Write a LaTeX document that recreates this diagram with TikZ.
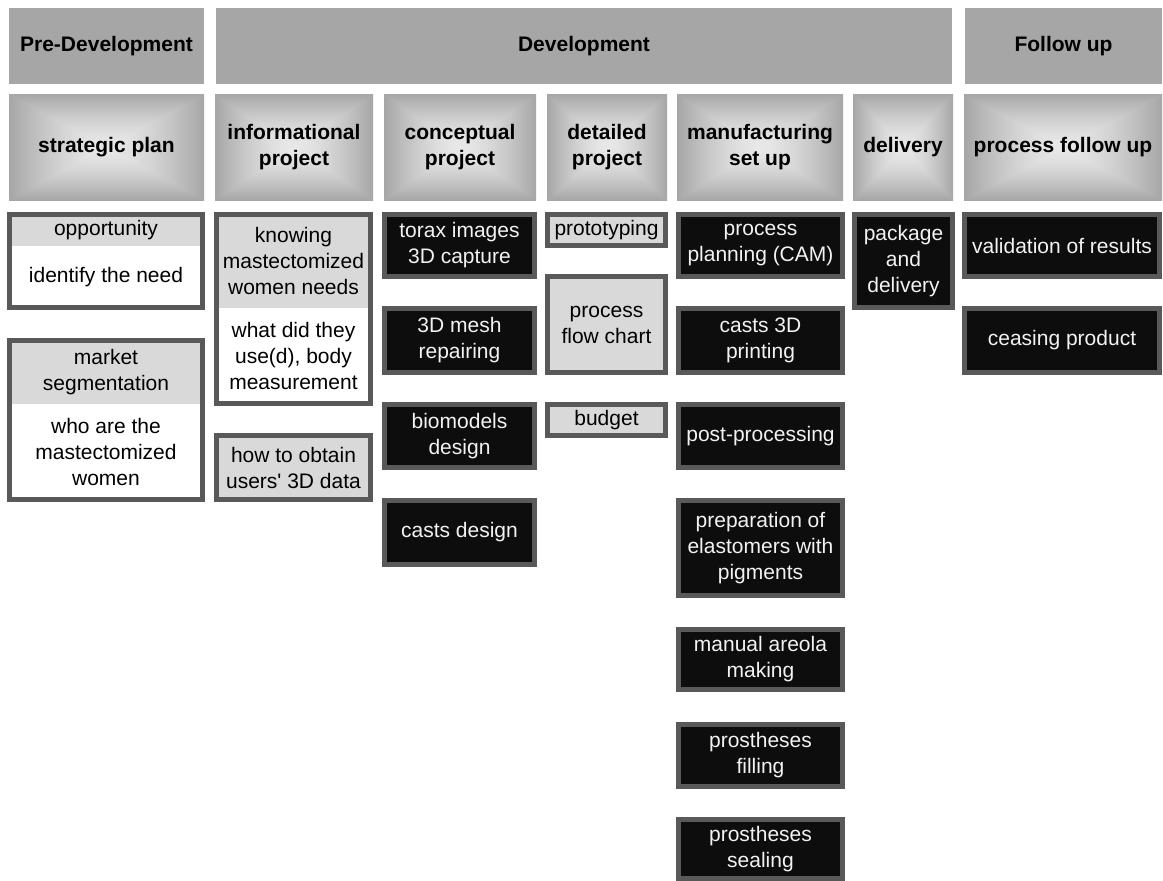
\documentclass[tikz,border=0pt]{standalone}
\usepackage{fontspec}
\setmainfont{Liberation Sans}
\usepackage{tikz}
\usetikzlibrary{positioning}
\definecolor{hdrgray}{RGB}{166,166,166}
\definecolor{framegray}{RGB}{89,89,89}
\definecolor{bandgray}{RGB}{217,217,217}
\definecolor{boxblack}{RGB}{13,13,13}
\definecolor{boxtext}{RGB}{242,242,242}
% light centre, darker towards the four edges
\pgfdeclarefunctionalshading{phaseshade}{\pgfpointorigin}{\pgfpoint{100bp}{100bp}}{}{
  50 sub abs exch 50 sub abs 2 copy lt {exch} if pop
  25 div dup sqrt mul -0.26 mul 0.91 add dup dup
}
\tikzset{
  txt/.style={font=\fontsize{21}{26}\selectfont, align=center,
    inner sep=0pt, outer sep=0pt},
  stagebox/.style={txt, rectangle, fill=hdrgray,
    font=\fontsize{21}{26}\selectfont\bfseries, minimum height=76pt},
  phasebox/.style={txt, rectangle, shading=phaseshade,
    font=\fontsize{21}{26}\selectfont\bfseries, minimum height=106pt},
  darkbox/.style={txt, rectangle, draw=framegray, fill=boxblack,
    text=boxtext, line width=5pt, minimum height=63pt},
  greybox/.style={txt, rectangle, draw=framegray, fill=bandgray,
    line width=5pt},
  headpart/.style={txt, rectangle, fill=bandgray},
  bodypart/.style={txt, rectangle, fill=white},
  frame/.style={draw=framegray, line width=5pt}
}

\begin{document}
\begin{tikzpicture}[x=1pt, y=-1pt]
  \path[use as bounding box, fill=white] (0,0) rectangle (1163,881);

  % Stages
  \node[stagebox, minimum width=195pt] (predev) at (106.5,46) {Pre-Development};
  \node[stagebox, minimum width=736pt] (dev) at (584,46) {Development};
  \node[stagebox, minimum width=197pt] (follow) at (1063.5,46) {Follow up};

  % Phases
  \foreach \n/\x/\w/\t in {plan/106.5/195/{strategic plan},
      info/294/158/{informational\\project},
      concept/460/152/{conceptual\\project},
      detail/607/120/{detailed\\project},
      manuf/760/166/{manufacturing\\set up},
      deliv/903/100/{delivery},
      followup/1063/198/{process follow up}}
    \node[phasebox, minimum width=\w pt] (\n) at (\x,147) {\t};

  % Strategic plan
  \node[headpart, minimum width=193pt, minimum height=31.5pt] (oppHead) at (106,230.25) {opportunity};
  \node[bodypart, minimum width=193pt, minimum height=61.5pt, below=0pt of oppHead] (oppBody) {identify the need};
  \draw[frame] (oppHead.north west) rectangle (oppBody.south east);
  \node[headpart, minimum width=193pt, minimum height=63.5pt] (segHead) at (106,372.25) {market\\segmentation};
  \node[bodypart, minimum width=193pt, minimum height=95.5pt, below=0pt of segHead] (segBody) {who are the\\mastectomized\\women};
  \draw[frame] (segHead.north west) rectangle (segBody.south east);

  % Informational project
  \node[headpart, minimum width=154pt, minimum height=93.5pt] (needHead) at (293.5,261.25) {knowing\\mastectomized\\women needs};
  \node[bodypart, minimum width=154pt, minimum height=95.5pt, below=0pt of needHead] (needBody) {what did they\\use(d), body\\measurement};
  \draw[frame] (needHead.north west) rectangle (needBody.south east);
  \node[greybox, minimum width=154pt, minimum height=64pt] (obtain) at (293.5,467.5) {how to obtain\\users\textquotesingle{} 3D data};

  % Conceptual project
  \node[darkbox, minimum width=150pt, minimum height=62pt] (torax) at (459.5,245.5) {torax images\\3D capture};
  \node[darkbox, minimum width=150pt, minimum height=64pt] (mesh) at (459.5,340.5) {3D mesh\\repairing};
  \node[darkbox, minimum width=150pt] (biomod) at (459.5,436) {biomodels\\design};
  \node[darkbox, minimum width=150pt, minimum height=64pt] (castsdes) at (459.5,532.5) {casts design};

  % Detailed project
  \node[greybox, minimum width=118pt, minimum height=31pt] (proto) at (606.5,230) {prototyping};
  \node[greybox, minimum width=118pt, minimum height=96pt] (flow) at (606.5,324.5) {process\\flow chart};
  \node[greybox, minimum width=118pt, minimum height=31pt] (budget) at (606.5,420) {budget};

  % Manufacturing set up
  \foreach \n/\y/\h/\t in {cam/245.5/62/{process\\planning (CAM)},
      print/340.5/64/{casts 3D\\printing},
      post/436/63/{post-processing},
      prep/548/95/{preparation of\\elastomers with\\pigments},
      areola/659.5/60/{manual areola\\making},
      filling/755.5/62/{prostheses\\filling},
      sealing/849/59/{prostheses\\sealing}}
    \node[darkbox, minimum width=164pt, minimum height=\h pt] (\n) at (760.5,\y) {\t};

  % Delivery
  \node[darkbox, minimum width=98pt, minimum height=93pt] (pack) at (903.5,261) {package\\and\\delivery};

  % Process follow up
  \node[darkbox, minimum width=195pt, minimum height=62pt] (valid) at (1062,245.5) {validation of results};
  \node[darkbox, minimum width=195pt, minimum height=64pt] (ceasing) at (1062,340.5) {ceasing product};
\end{tikzpicture}
\end{document}
